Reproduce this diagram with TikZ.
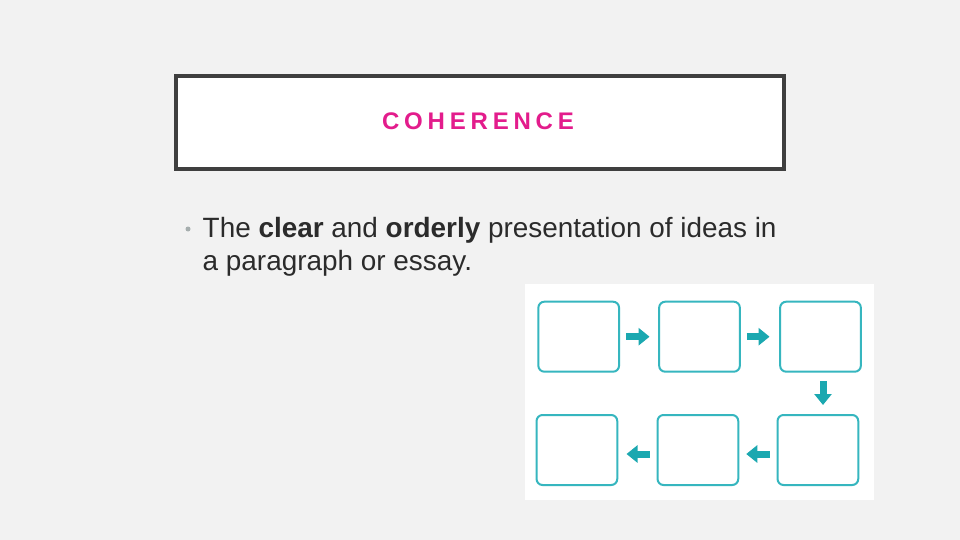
\documentclass[tikz,border=0pt]{standalone}
\usepackage{fontspec}
\setmainfont{Liberation Sans}
\newfontfamily\titlefont[LetterSpace=20]{Liberation Sans}
\usetikzlibrary{arrows.meta}
\definecolor{bgc}{HTML}{F2F2F2}
\definecolor{framec}{HTML}{3F3F3F}
\definecolor{titlec}{HTML}{E31C8C}
\definecolor{textc}{HTML}{2B2B2B}
\definecolor{bulc}{HTML}{A6AEAE}
\definecolor{boxc}{HTML}{36B6BF}
\definecolor{arrc}{HTML}{1BA8B0}
\tikzset{
  fbox/.style={draw=boxc, line width=2pt, rounded corners=6pt, fill=white,
    minimum width=80.7pt, minimum height=70pt, inner sep=0pt},
  blockarrow/.style={draw=arrc, line width=7pt,
    -{Triangle[length=11pt,width=17pt]}},
  bodytext/.style={anchor=base west, inner sep=0pt, text=textc,
    font=\fontsize{27.9}{32.7}\selectfont},
}
\begin{document}
\begin{tikzpicture}[x=1pt,y=-1pt]
\useasboundingbox (0,0) rectangle (960,540);
\fill[bgc] (0,0) rectangle (960,540);
% title box
\node[draw=framec, line width=4pt, fill=white, minimum width=608.3pt,
  minimum height=93pt, inner sep=0pt] (frame) at (479.85,122.5) {};
\node[text=titlec, inner sep=0pt, font=\titlefont\bfseries\fontsize{24}{28}\selectfont]
  (title) at (478,121) {COHERENCE};
% bullet text
\node[circle, fill=bulc, minimum size=5pt, inner sep=0pt] (bul) at (188,229) {};
\node[bodytext] (t1) at (202.5,237.3) {The \textbf{clear} and \textbf{orderly} presentation of ideas in};
\node[bodytext] (t2) at (202.5,270) {a paragraph or essay.};
% picture panel
\node[fill=white, minimum width=349pt, minimum height=216pt, inner sep=0pt]
  (panel) at (699.5,392) {};
% boxes
\node[fbox] (b1) at (578.7,336.7) {};
\node[fbox] (b2) at (699.5,336.7) {};
\node[fbox] (b3) at (820.5,336.7) {};
\node[fbox] (b4) at (576.9,450) {};
\node[fbox] (b5) at (697.9,450) {};
\node[fbox] (b6) at (817.9,450) {};
% arrows
\draw[blockarrow, shorten <=6pt, shorten >=8.6pt] (b1.east) -- (b2.west);
\draw[blockarrow, shorten <=6pt, shorten >=9.6pt] (b2.east) -- (b3.west);
\draw[blockarrow, shorten <=8.3pt, shorten >=9pt]
  ([xshift=2.5pt]b3.south) -- ([xshift=2.5pt]b3.south |- b6.north);
\draw[blockarrow, shorten <=7pt, shorten >=7pt]
  ([yshift=-4pt]b6.west) -- ([yshift=-4pt]b6.west -| b5.east);
\draw[blockarrow, shorten <=7pt, shorten >=8.3pt]
  ([yshift=-4pt]b5.west) -- ([yshift=-4pt]b5.west -| b4.east);
\end{tikzpicture}
\end{document}
